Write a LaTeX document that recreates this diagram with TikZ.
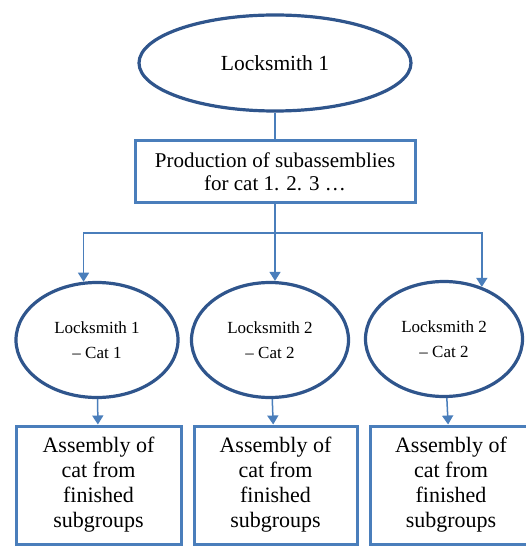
\documentclass[tikz,border=0pt]{standalone}
\usepackage{fontspec}
\setmainfont{Liberation Serif}
\usetikzlibrary{shapes.geometric,arrows.meta}
\definecolor{ringblue}{RGB}{47,85,140}
\definecolor{boxblue}{RGB}{74,126,187}
\definecolor{linkblue}{RGB}{74,126,187}

\begin{document}
\begin{tikzpicture}[x=1pt,y=-1pt,>={Triangle[width=11pt,length=9pt]},
    link/.style={draw=linkblue,line width=1.5pt}]
  \useasboundingbox (0,0) rectangle (525,548);

  \begin{scope}[every node/.style={ellipse,draw=ringblue,line width=3.2pt,align=center,inner sep=0pt,
      font=\fontsize{17}{25}\selectfont}]
    \node[minimum width=272pt,minimum height=96pt,font=\fontsize{21.5}{24}\selectfont] (top) at (275,63) {Locksmith 1};
    \node[minimum width=162pt,minimum height=115pt] (l1) at (97,340) {Locksmith 1\\ -- Cat 1};
    \node[minimum width=157pt,minimum height=115pt] (l2) at (270,340) {Locksmith 2\\ -- Cat 2};
    \node[minimum width=157pt,minimum height=115pt] (l3) at (444,339) {Locksmith 2\\ -- Cat 2};
  \end{scope}

  \begin{scope}[every node/.style={rectangle,draw=boxblue,line width=3pt,align=center,inner sep=0pt}]
    \node[minimum width=280pt,minimum height=61pt,font=\fontsize{21}{23}\selectfont] (prod) at (275,171.5)
      {Production of subassemblies\\ for cat 1. 2. 3 …};
    \node[minimum width=165pt,minimum height=118pt,font=\fontsize{22}{25}\selectfont] (a1) at (98.5,485)
      {Assembly of\\ cat from\\ finished\\ subgroups};
    \node[minimum width=163pt,minimum height=118pt,font=\fontsize{22}{25}\selectfont] (a2) at (275.5,485)
      {Assembly of\\ cat from\\ finished\\ subgroups};
    \node[minimum width=162pt,minimum height=118pt,font=\fontsize{22}{25}\selectfont] (a3) at (451,485)
      {Assembly of\\ cat from\\ finished\\ subgroups};
  \end{scope}

  \coordinate (split) at (275,233);

  % top part
  \draw[link] (top) -- (prod);
  \draw[link] (prod) -- (split);

  % fan out to the locksmiths
  \draw[link,->] (split) -| (l1.103);
  \draw[link,->] (split) -- (split |- l2.north);
  \draw[link,->] (split) -| (l3.54);

  % down to the assembly boxes
  \draw[link,->] (l1) -- (a1);
  \draw[link,->] (l2) -- (a2);
  \draw[link,->] (l3) -- (a3);

\end{tikzpicture}
\end{document}
